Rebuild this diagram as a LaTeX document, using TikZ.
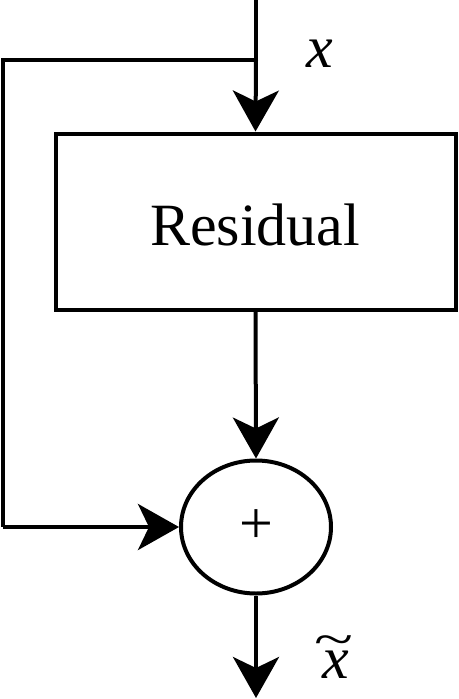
\documentclass[tikz,border=0pt]{standalone}
\usepackage{fontspec}
\setmainfont{Liberation Serif}
\usetikzlibrary{arrows.meta,shapes.geometric}
\begin{document}
\begin{tikzpicture}[x=1pt,y=-1pt,
  wire/.style={line width=4pt},
  flow/.style={wire,-{Stealth[length=41pt,width=46pt,inset=11pt]}},
  lbl/.style={font=\fontsize{60}{60}\selectfont,inner sep=0pt}]
\useasboundingbox (0,0) rectangle (458,699);
\node[draw,line width=4pt,minimum width=400pt,minimum height=176pt,inner sep=0pt] (res) at (255.5,221.5) {};
\node[lbl,anchor=base] (restext) at (255,245) {Residual};
\node[draw,ellipse,line width=4pt,minimum width=150pt,minimum height=133pt,inner sep=0pt] (sum) at (256,527) {};
\node[lbl] (plus) at (256,527) {+};
\coordinate (top) at (256,0);
\coordinate (br) at (256,60);
\coordinate (lt) at (3,60);
\coordinate (lb) at (3,527);
\coordinate (out) at (256,698);
\draw[wire] (top) -- (br);
\draw[flow] (br) -- (res.north);
\draw[wire] (br) -- (lt) -- (lb);
\draw[flow] (lb) -- (sum.west);
\draw[flow] (res.south) -- (sum.north);
\draw[flow] (sum.south) -- (out);
\node[lbl,anchor=base] (xin) at (320,67) {\itshape x};
\node[lbl,anchor=base] (xout) at (336,678) {\itshape x};
\node[inner sep=0pt,anchor=base] (tl) at (334,645.4) {\raisebox{-9.6pt}[12pt][0pt]{\scalebox{1.2}[0.8]{\fontsize{60}{60}\selectfont\char"7E}}};
\end{tikzpicture}
\end{document}
